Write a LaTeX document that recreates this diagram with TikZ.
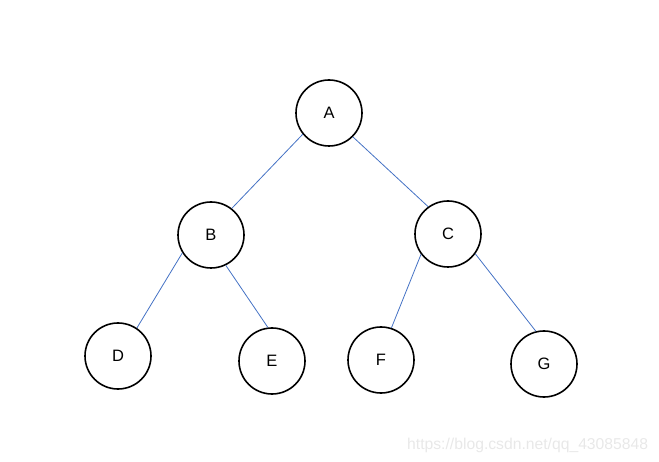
\documentclass[tikz,border=0pt]{standalone}
\usepackage{fontspec}
\setmainfont{Liberation Sans}
\definecolor{edgeblue}{HTML}{4472C4}
\definecolor{wm}{HTML}{E8E8E8}
\begin{document}
\begin{tikzpicture}[x=1pt,y=-1pt,
  vertex/.style={draw=black,line width=1.6pt,circle,minimum size=66pt,inner sep=0pt,font=\fontsize{16.5}{16.5}\selectfont},
  edge/.style={draw=edgeblue,line width=0.8pt}]
\useasboundingbox (0,0) rectangle (659,462);
\node[vertex] (A) at (329,113) {A};
\node[vertex] (B) at (211,235) {B};
\node[vertex] (C) at (448,234) {C};
\node[vertex] (D) at (118,356) {D};
\node[vertex] (E) at (272,361) {E};
\node[vertex] (F) at (381,360) {F};
\node[vertex] (G) at (544,364) {G};
\draw[edge] (A.219) -- (B.52);
\draw[edge] (A.315) -- (C.126);
\draw[edge] (B.212) -- (D.56);
\draw[edge] (B.296) -- (E.97);
\draw[edge] (C.217) -- (F.72);
\draw[edge] (C.324) -- (G.104);
\node[text=wm,font=\fontsize{15.7}{15.7}\selectfont,anchor=base west,inner sep=0pt] (wm) at (407,449) {https://blog.csdn.net/qq\_43085848};
\end{tikzpicture}
\end{document}
